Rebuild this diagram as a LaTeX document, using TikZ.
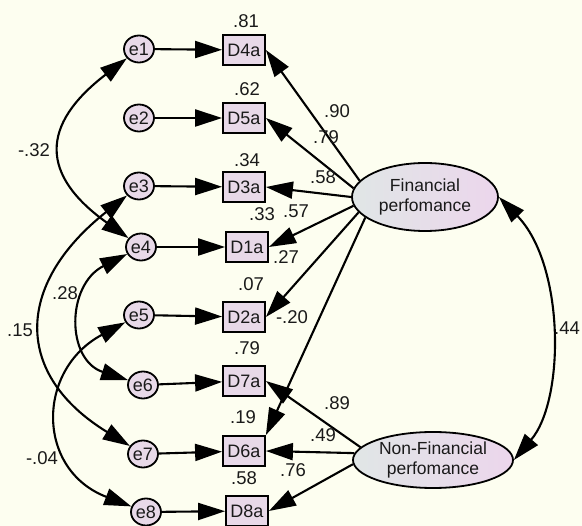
\documentclass[tikz,border=0pt]{standalone}
\usepackage{fontspec}
\setmainfont{Liberation Sans}
\usetikzlibrary{arrows.meta,shapes.geometric}
\definecolor{bg}{HTML}{FDFEF0}
\definecolor{nfill}{HTML}{E8D9E8}
\definecolor{lleft}{HTML}{E0E6E6}
\definecolor{lright}{HTML}{ECD6EC}
\definecolor{txt}{HTML}{1A1A1A}
\begin{document}
\begin{tikzpicture}[x=1pt,y=-1pt,
  every node/.style={font=\fontsize{18.5}{20}\selectfont, inner sep=0pt, text=txt},
  err/.style={ellipse, draw, line width=1.8pt, fill=nfill, minimum width=30pt, minimum height=27pt, font=\fontsize{18}{20}\selectfont},
  obs/.style={rectangle, draw, line width=1.8pt, fill=nfill, minimum width=42pt, minimum height=30pt, font=\fontsize{18}{20}\selectfont},
  lat/.style={ellipse, draw, line width=1.8pt, left color=lleft, right color=lright, align=center, font=\fontsize{17.5}{19.5}\selectfont},
  arr/.style={-{Triangle[length=27pt,width=17pt]}, line width=2.1pt},
  cov/.style={{Triangle[length=27pt,width=17pt]}-{Triangle[length=27pt,width=17pt]}, line width=2.1pt}
]
\fill[bg] (0,0) rectangle (582,526);
\useasboundingbox (0,0) rectangle (582,526);

% error terms
\node[err] (e1) at (139,49) {e1};
\node[err] (e2) at (139,118) {e2};
\node[err] (e3) at (139,186) {e3};
\node[err] (e4) at (141,247) {e4};
\node[err] (e5) at (139,315) {e5};
\node[err] (e6) at (143,385) {e6};
\node[err] (e7) at (143,454) {e7};
\node[err] (e8) at (146,512) {e8};

% observed
\node[obs] (D4a) at (244,50) {D4a};
\node[obs] (D5a) at (244,118) {D5a};
\node[obs] (D3a) at (244,187) {D3a};
\node[obs] (D1a) at (247,247) {D1a};
\node[obs] (D2a) at (244,317) {D2a};
\node[obs] (D7a) at (244,381) {D7a};
\node[obs] (D6a) at (244,451) {D6a};
\node[obs] (D8a) at (247,511) {D8a};

% latent
\node[lat, minimum width=146pt, minimum height=68pt] (F) at (425,197) {Financial\\perfomance};
\node[lat, minimum width=160pt, minimum height=56pt] (NF) at (433,460) {Non-Financial\\perfomance};

% error arrows
\draw[arr] (e1) -- (D4a);
\draw[arr] (e2) -- (D5a);
\draw[arr] (e3) -- (D3a);
\draw[arr] (e4) -- (D1a);
\draw[arr] (e5) -- (D2a);
\draw[arr] (e6) -- (D7a);
\draw[arr] (e7) -- (D6a);
\draw[arr] (e8) -- (D8a);

% loadings
\draw[arr] (F.166) -- (D4a.east);
\draw[arr] (F.173) -- (D5a.east);
\draw[arr] (F.180) -- (D3a.east);
\draw[arr] (F.187) -- (D1a.east);
\draw[arr] (F.193) -- (D2a.east);
\draw[arr] (F.199) -- (D6a.north east);
\draw[arr] (NF.170) -- (D7a.east);
\draw[arr] (NF.175) -- (D6a.east);
\draw[arr] (NF.183) -- (D8a.east);

% covariances
\draw[cov] (e1) .. controls (40,125) and (40,175) .. (e4);
\draw[cov] (e3) .. controls (14,285) and (14,375) .. (e7);
\draw[cov] (e4) .. controls (66,285) and (66,360) .. (e6);
\draw[cov] (e5) .. controls (36,370) and (36,470) .. (e8);
\draw[cov] (F.east) .. controls (565,265) and (565,400) .. (NF.east);

% squared multiple correlations
\node (r1) at (246,21) {.81};
\node (r2) at (247,89) {.62};
\node (r3) at (247,160) {.34};
\node (r4) at (262,214) {.33};
\node (r5) at (251,284) {.07};
\node (r6) at (247,348) {.79};
\node (r7) at (243,417) {.19};
\node (r8) at (244,478) {.58};

% loading labels
\node (w1) at (337,111) {.90};
\node (w2) at (326,137) {.79};
\node (w3) at (323,177) {.58};
\node (w4) at (296,211) {.57};
\node (w5) at (286,257) {.27};
\node (w6) at (292,317) {-.20};
\node (w7) at (337,403) {.89};
\node (w8) at (323,435) {.49};
\node (w9) at (293,470) {.76};

% covariance labels
\node (c1) at (34,150) {-.32};
\node (c2) at (65,293) {.28};
\node (c3) at (20,330) {.15};
\node (c4) at (42,458) {-.04};
\node (c5) at (567,328) {.44};
\end{tikzpicture}
\end{document}
